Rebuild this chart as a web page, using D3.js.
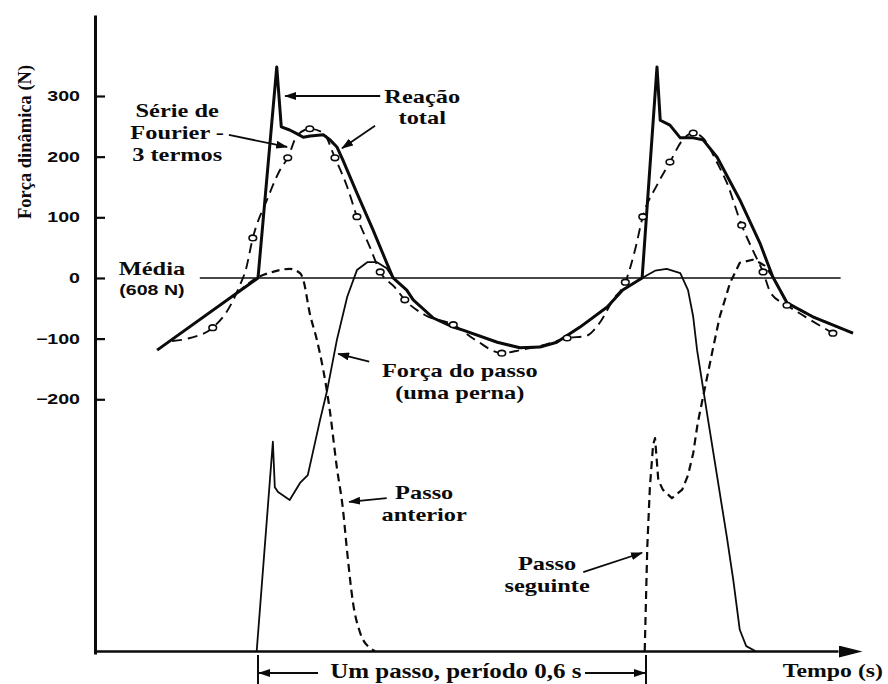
<!DOCTYPE html>
<html>
<head>
<meta charset="utf-8">
<script src="https://cdn.jsdelivr.net/npm/d3@7"></script>
<style>
  html, body { margin: 0; padding: 0; background: #fff; }
  svg { display: block; }
</style>
</head>
<body>
<svg id="chart" width="888" height="684"></svg>
<script>
// Dynamic force of walking: total ground reaction, its 3-term Fourier fit,
// and the force of a single leg over one step (period 0.6 s).
// Time in seconds from heel strike, force in N relative to the mean (608 N).

const yTicks = [300, 200, 100, 0, -100, -200];
const yTickLabels = ["300", "200", "100", "0", "−100", "−200"];
const meanLabel = "(608 N)";
const stepPeriod = 0.6;          // s
const groundLevel = -615;        // zero contact force, relative to the mean

// Total reaction (both feet) [t, F]
const totalReaction = [
  [-0.156, -119], [0.000, 0], [0.029, 348], [0.036, 249], [0.049, 244],
  [0.060, 238], [0.070, 232], [0.081, 234], [0.101, 236], [0.111, 228],
  [0.122, 216], [0.131, 195], [0.153, 140], [0.178, 79], [0.199, 25],
  [0.209, 0], [0.230, -20], [0.240, -36], [0.271, -66], [0.302, -81],
  [0.317, -86], [0.370, -106], [0.405, -115], [0.436, -114], [0.462, -106],
  [0.498, -81], [0.540, -48], [0.564, -20], [0.594, 0], [0.617, 348],
  [0.622, 260], [0.637, 252], [0.653, 231], [0.673, 231], [0.688, 228],
  [0.710, 199], [0.745, 129], [0.776, 58], [0.796, 2], [0.818, -41],
  [0.858, -64], [0.920, -91]
];

// Fourier series, 3 terms [t, F]
const fourierFit = [
  [-0.133, -104], [-0.105, -99], [-0.070, -82], [-0.043, -46], [-0.028, -12],
  [-0.019, 13], [-0.008, 66], [0.014, 129], [0.034, 178], [0.046, 198],
  [0.060, 234], [0.080, 246], [0.101, 239], [0.119, 198], [0.138, 150],
  [0.153, 101], [0.173, 51], [0.189, 10], [0.212, -16], [0.227, -36],
  [0.258, -61], [0.302, -77], [0.336, -102], [0.377, -124], [0.405, -119],
  [0.444, -110], [0.478, -99], [0.506, -96], [0.529, -73], [0.549, -36],
  [0.568, -7], [0.583, 46], [0.595, 101], [0.617, 153], [0.637, 191],
  [0.657, 228], [0.673, 239], [0.688, 231], [0.710, 190], [0.725, 157],
  [0.748, 87], [0.765, 46], [0.781, 10], [0.793, -25], [0.818, -45],
  [0.854, -69], [0.889, -91]
];

// Sample points marked on the Fourier curve [t, F]
const fourierSamples = [
  [-0.070, -82], [-0.008, 66], [0.046, 198], [0.080, 246], [0.119, 198],
  [0.153, 101], [0.189, 10], [0.227, -36], [0.302, -77], [0.377, -124],
  [0.478, -99], [0.568, -7], [0.595, 101], [0.637, 191], [0.673, 239],
  [0.748, 87], [0.781, 10], [0.818, -45], [0.889, -91]
];

// Force of one leg over its step [t, F]
const stepForce = [
  [-0.002, -615], [0.023, -270], [0.026, -345], [0.031, -353], [0.049, -366],
  [0.065, -338], [0.077, -325], [0.096, -234], [0.107, -185], [0.122, -102],
  [0.138, -31], [0.153, 13], [0.169, 26], [0.184, 26], [0.199, 16],
  [0.209, 0], [0.230, -20], [0.240, -36], [0.271, -66], [0.302, -81],
  [0.317, -86], [0.370, -106], [0.405, -115], [0.436, -114], [0.462, -106],
  [0.498, -81], [0.540, -48], [0.564, -20], [0.594, 0], [0.614, 12],
  [0.632, 15], [0.653, 8], [0.665, -20], [0.673, -64], [0.679, -119],
  [0.696, -234], [0.725, -427], [0.735, -498], [0.745, -580], [0.755, -607],
  [0.769, -615]
];

// Previous step (other leg) unloading [t, F]
const previousStep = [
  [-0.030, -23], [-0.002, 0], [0.023, 10], [0.049, 15], [0.065, 8],
  [0.070, -3], [0.080, -58], [0.091, -102], [0.101, -152], [0.111, -218],
  [0.122, -313], [0.131, -378], [0.138, -453], [0.147, -536], [0.158, -585],
  [0.173, -610], [0.181, -615]
];

// Next step (other leg) loading [t, F]
const nextStep = [
  [0.598, -615], [0.602, -443], [0.606, -345], [0.611, -275], [0.614, -264],
  [0.619, -333], [0.626, -349], [0.640, -363], [0.656, -349], [0.665, -325],
  [0.673, -289], [0.680, -239], [0.704, -114], [0.714, -64], [0.730, -8],
  [0.745, 25], [0.765, 30], [0.776, 25], [0.784, 20], [0.796, 2],
  [0.818, -41], [0.858, -64], [0.920, -91]
];

// ---- layout ----
const svg = d3.select("#chart");
const serif = "'Liberation Serif', 'Times New Roman', serif";
const sans = "'Liberation Sans', Arial, sans-serif";
const ink = "#0b0b0b";

const x = d3.scaleLinear().domain([0, stepPeriod]).range([258, 646]);
const y = d3.scaleLinear().domain([groundLevel, 300]).range([651, 96]);

const axisX = 95;           // position of the force axis
const axisTop = 15;
const baseY = y(groundLevel);

const defs = svg.append("defs");
defs.append("marker")
  .attr("id", "head").attr("viewBox", "0 0 12 8")
  .attr("refX", 11).attr("refY", 4)
  .attr("markerWidth", 12).attr("markerHeight", 8)
  .attr("markerUnits", "userSpaceOnUse").attr("orient", "auto")
  .append("path").attr("d", "M0,0L12,4L0,8Z").attr("fill", ink);
defs.append("marker")
  .attr("id", "bighead").attr("viewBox", "0 0 24 12")
  .attr("refX", 0).attr("refY", 6)
  .attr("markerWidth", 24).attr("markerHeight", 12)
  .attr("markerUnits", "userSpaceOnUse").attr("orient", "auto")
  .append("path").attr("d", "M0,0L24,6L0,12Z").attr("fill", ink);

// text stretched horizontally, one or more lines
function stretchedText(parent, lines, px, py, o = {}) {
  const size = o.size || 19.5, sx = o.sx || 1.25, lh = o.lh || 22;
  const t = parent.append("text")
    .attr("transform", `translate(${px},${py}) scale(${sx},1)`)
    .attr("text-anchor", o.anchor || "middle")
    .attr("fill", ink)
    .style("font-family", o.family || serif)
    .style("font-size", size + "px")
    .style("font-weight", o.weight || "bold");
  lines.forEach((s, i) => t.append("tspan").attr("x", 0).attr("y", i * lh).text(s));
  return t;
}

// ---- axes ----
const yAxisScale = d3.scaleLinear()
  .domain([y.invert(baseY + 3), y.invert(axisTop)])
  .range([baseY + 3, axisTop]);
const yAxis = svg.append("g")
  .attr("transform", `translate(${axisX},0)`)
  .call(d3.axisRight(yAxisScale).tickValues(yTicks).tickSize(10).tickSizeOuter(0).tickFormat(""));
yAxis.select(".domain").attr("stroke", ink).attr("stroke-width", 3);
yAxis.selectAll(".tick line").attr("stroke", ink).attr("stroke-width", 2.2);

const tickLabels = svg.append("g");
yTicks.forEach((v, i) => {
  stretchedText(tickLabels, [yTickLabels[i]], axisX - 15, y(v) + 5,
    { family: sans, size: 14, sx: 1.4, anchor: "end" });
});

const xAxisScale = d3.scaleLinear()
  .domain([x.invert(axisX), x.invert(838)])
  .range([axisX, 838]);
const xAxis = svg.append("g")
  .attr("transform", `translate(0,${baseY})`)
  .call(d3.axisBottom(xAxisScale).tickValues([]).tickSizeOuter(0));
xAxis.select(".domain").attr("stroke", ink).attr("stroke-width", 2.6)
  .attr("marker-end", "url(#bighead)");

// axis titles
svg.append("text")
  .attr("transform", `translate(31,142) rotate(-90)`)
  .attr("text-anchor", "middle").attr("fill", ink)
  .style("font-family", serif).style("font-size", "18.5px").style("font-weight", "bold")
  .text("Força dinâmica (N)");
stretchedText(svg, ["Tempo (s)"], 883, baseY + 26, { anchor: "end", size: 19.5, sx: 1.22 });

// ---- mean line ----
svg.append("line")
  .attr("x1", x(-0.090)).attr("x2", x(0.901))
  .attr("y1", y(0)).attr("y2", y(0))
  .attr("stroke", ink).attr("stroke-width", 1.5);

// ---- curves ----
const straight = d3.line().x(d => x(d[0])).y(d => y(d[1]));
const smooth = d3.line().x(d => x(d[0])).y(d => y(d[1])).curve(d3.curveMonotoneX);

const curves = svg.append("g").attr("fill", "none").attr("stroke", ink)
  .attr("stroke-linejoin", "round");

curves.append("path").datum(stepForce).attr("d", straight)
  .attr("stroke-width", 1.8);
curves.append("path").datum(previousStep).attr("d", smooth)
  .attr("stroke-width", 2.2).attr("stroke-dasharray", "8,5");
curves.append("path").datum(nextStep).attr("d", straight)
  .attr("stroke-width", 2.2).attr("stroke-dasharray", "8,5");
curves.append("path").datum(fourierFit).attr("d", smooth)
  .attr("stroke-width", 1.9).attr("stroke-dasharray", "10,6");
curves.append("path").datum(totalReaction).attr("d", straight)
  .attr("stroke-width", 3);

svg.append("g").selectAll("ellipse").data(fourierSamples).join("ellipse")
  .attr("cx", d => x(d[0])).attr("cy", d => y(d[1]))
  .attr("rx", 3.8).attr("ry", 2.8)
  .attr("fill", "#fff").attr("stroke", ink).attr("stroke-width", 1.6);

// ---- annotations ----
const notes = [
  { lines: ["Série de", "Fourier -", "3 termos"], t: -0.125, f: 265 },
  { lines: ["Reação", "total"], t: 0.254, f: 288, lh: 21 },
  { lines: ["Média"], t: -0.164, f: 5 },
  { lines: ["Força do passo", "(uma perna)"], t: 0.312, f: -163 },
  { lines: ["Passo", "anterior"], t: 0.257, f: -364 },
  { lines: ["Passo", "seguinte"], t: 0.447, f: -481 }
];
const notesG = svg.append("g");
notes.forEach(n => stretchedText(notesG, n.lines, x(n.t), y(n.f), { lh: n.lh }));
stretchedText(notesG, [meanLabel], x(-0.164), y(-28), { family: sans, size: 14.5, sx: 1.35 });

const pointers = [
  { from: [0.189, 300], to: [0.042, 300] },
  { from: [0.181, 251], to: [0.130, 214] },
  { from: [-0.045, 236], to: [0.045, 216] },
  { from: [0.172, -138], to: [0.124, -125] },
  { from: [0.199, -363], to: [0.141, -369] },
  { from: [0.503, -485], to: [0.594, -453] }
];
svg.append("g").selectAll("line").data(pointers).join("line")
  .attr("x1", d => x(d.from[0])).attr("y1", d => y(d.from[1]))
  .attr("x2", d => x(d.to[0])).attr("y2", d => y(d.to[1]))
  .attr("stroke", ink).attr("stroke-width", 1.8)
  .attr("marker-end", "url(#head)");

// ---- one step bracket ----
const br = svg.append("g").attr("stroke", ink);
const bracketY = baseY + 22;
[0, stepPeriod].forEach(t => {
  br.append("line").attr("x1", x(t)).attr("x2", x(t))
    .attr("y1", baseY + 4).attr("y2", baseY + 33).attr("stroke-width", 2);
});
br.append("line").attr("x1", x(0) + 60).attr("x2", x(0) + 1)
  .attr("y1", bracketY).attr("y2", bracketY).attr("stroke-width", 2)
  .attr("marker-end", "url(#head)");
br.append("line").attr("x1", x(stepPeriod) - 61).attr("x2", x(stepPeriod) - 1)
  .attr("y1", bracketY).attr("y2", bracketY).attr("stroke-width", 2)
  .attr("marker-end", "url(#head)");
stretchedText(svg, ["Um passo, período 0,6 s"], x(0.306), baseY + 27, { size: 20 });
</script>
</body>
</html>
